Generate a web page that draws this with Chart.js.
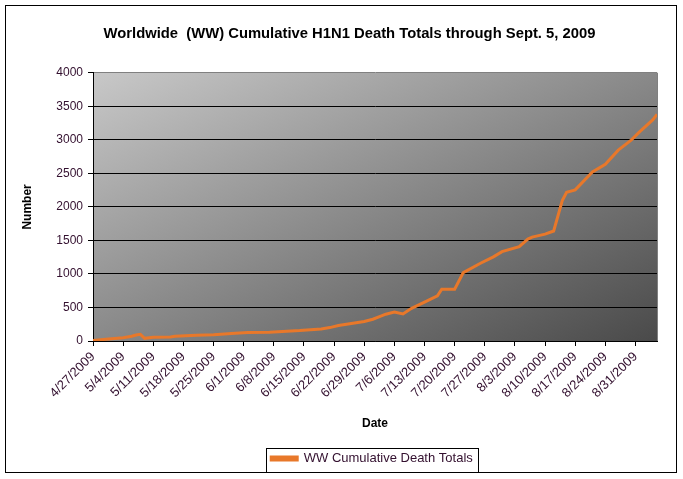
<!DOCTYPE html>
<html>
<head>
<meta charset="utf-8">
<script src="https://cdn.jsdelivr.net/npm/chart.js@4.4.0/dist/chart.umd.min.js"></script>
<style>
  html, body { margin: 0; padding: 0; background: #fff; }
  #wrap { width: 683px; height: 479px; }
</style>
</head>
<body>
<div id="wrap"><canvas id="deathChart" width="683" height="479"></canvas></div>
<script>
// days since 4/27/2009 at which a total was reported
const dayIndex = [0, 3, 7, 9, 10, 11, 12, 14, 18, 19, 24, 28, 33, 36, 41, 45, 48, 53, 55, 57,
                  60, 63, 65, 67, 68, 70, 72, 74, 77, 80, 81, 84, 86, 90, 93, 95, 99, 101, 102,
                  105, 107, 109, 110, 112, 116, 119, 122, 125, 127, 130, 131];
const deaths = [7, 25, 48, 70, 90, 100, 40, 55, 60, 72, 85, 92, 115, 125, 130, 145, 155, 180, 200, 230,
                260, 290, 325, 375, 400, 432, 403, 488, 580, 672, 771, 771, 1020, 1160, 1255, 1333, 1407, 1520, 1550,
                1594, 1640, 2094, 2219, 2254, 2520, 2636, 2846, 2996, 3121, 3297, 3380];
const weekLabels = ['4/27/2009', '5/4/2009', '5/11/2009', '5/18/2009', '5/25/2009', '6/1/2009',
                    '6/8/2009', '6/15/2009', '6/22/2009', '6/29/2009', '7/6/2009', '7/13/2009',
                    '7/20/2009', '7/27/2009', '8/3/2009', '8/10/2009', '8/17/2009', '8/24/2009', '8/31/2009'];

const labelColor = '#33102f';
const lineColor = '#e8782a';
const legendFont = { family: 'Liberation Sans', size: 13 };
const legendBoxWidth = 26;

// white page, gradient plot area and the borders Excel draws
const frame = {
    id: 'frame',
    afterLayout(chart) {
        // Excel puts the title a bit right of centre and the legend under the plot
        const t = chart.titleBlock;
        t.left += 18; t.right += 18;
        const lg = chart.legend;
        const a = chart.chartArea;
        const dx = (a.left + a.right) / 2 - (lg.left + lg.right) / 2 - 3;
        lg.left += dx; lg.right += dx;
    },
    beforeDraw(chart) {
        const ctx = chart.ctx;
        const a = chart.chartArea;
        ctx.save();
        ctx.fillStyle = '#fff';
        ctx.fillRect(0, 0, chart.width, chart.height);
        ctx.translate(a.left, a.top);
        ctx.scale(a.right - a.left, a.bottom - a.top);
        const grad = ctx.createLinearGradient(0, 0, 1, 1);
        grad.addColorStop(0, '#c8c8c8');
        grad.addColorStop(1, '#4a4a4a');
        ctx.fillStyle = grad;
        ctx.fillRect(0, 0, 1, 1);
        ctx.restore();
    },
    afterDraw(chart) {
        const ctx = chart.ctx;
        const a = chart.chartArea;
        ctx.save();
        ctx.strokeStyle = '#808080';
        ctx.lineWidth = 1;
        ctx.beginPath();
        ctx.moveTo(Math.round(a.right) + 0.5, a.top);
        ctx.lineTo(Math.round(a.right) + 0.5, a.bottom);
        ctx.stroke();
        ctx.strokeStyle = '#000';
        ctx.strokeRect(5.5, 5.5, 671, 467);
        // box round the legend entry
        const lg = chart.legend;
        ctx.font = legendFont.size + 'px ' + legendFont.family;
        const itemW = legendBoxWidth + legendFont.size / 2 + ctx.measureText(chart.data.datasets[0].label).width;
        const cx = (lg.left + lg.right) / 2;
        const cy = (lg.top + lg.bottom) / 2;
        ctx.strokeRect(Math.round(cx - itemW / 2 - 5) + 0.5, Math.round(cy - 12) + 0.5,
                       Math.round(itemW + 10), 24);
        ctx.restore();
    }
};

const chartData = {
    datasets: [{
        label: 'WW Cumulative Death Totals',
        data: dayIndex.map((d, i) => ({ x: d, y: deaths[i] })),
        borderColor: lineColor,
        backgroundColor: lineColor,
        borderWidth: 3,
        pointRadius: 0,
        tension: 0
    }]
};

new Chart(document.getElementById('deathChart'), {
    type: 'line',
    data: chartData,
    plugins: [frame],
    options: {
        responsive: false,
        animation: false,
        layout: { padding: { left: 6, right: 26, top: 6, bottom: 4 } },
        plugins: {
            title: {
                display: true,
                text: 'Worldwide  (WW) Cumulative H1N1 Death Totals through Sept. 5, 2009',
                color: '#000',
                font: { family: 'Liberation Sans', size: 14.8, weight: 'bold' },
                padding: { top: 19, bottom: 30 }
            },
            legend: {
                position: 'bottom',
                labels: {
                    color: labelColor,
                    font: legendFont,
                    boxWidth: legendBoxWidth,
                    boxHeight: 3,
                    padding: 8
                }
            },
            tooltip: { enabled: false }
        },
        scales: {
            x: {
                type: 'linear',
                min: 0,
                max: 131,
                afterBuildTicks(scale) {
                    scale.ticks = scale.ticks.filter(t => t.value % 7 === 0);
                },
                afterFit(scale) { scale.height = 103; },
                ticks: {
                    stepSize: 7,
                    autoSkip: false,
                    maxRotation: 45,
                    minRotation: 45,
                    color: labelColor,
                    font: { family: 'Liberation Sans', size: 13 },
                    callback: v => weekLabels[v / 7]
                },
                grid: { drawOnChartArea: false, color: '#000', tickLength: 5 },
                border: { color: '#000' },
                title: {
                    display: true,
                    text: 'Date',
                    color: '#000',
                    font: { family: 'Liberation Sans', size: 12, weight: 'bold' },
                    padding: { top: 4, bottom: 13 }
                }
            },
            y: {
                min: 0,
                max: 4000,
                afterFit(scale) { scale.width = 87; },
                ticks: {
                    stepSize: 500,
                    color: labelColor,
                    padding: 5,
                    font: { family: 'Liberation Sans', size: 12 },
                    callback: v => String(v)
                },
                grid: {
                    color: c => (c.tick && c.tick.value === 4000) ? '#808080' : '#000',
                    tickColor: '#000',
                    tickLength: 5
                },
                border: { color: '#000' },
                title: {
                    display: true,
                    text: 'Number',
                    color: '#000',
                    font: { family: 'Liberation Sans', size: 12, weight: 'bold' },
                    padding: { top: 14, bottom: 0 }
                }
            }
        }
    }
});
</script>
</body>
</html>
